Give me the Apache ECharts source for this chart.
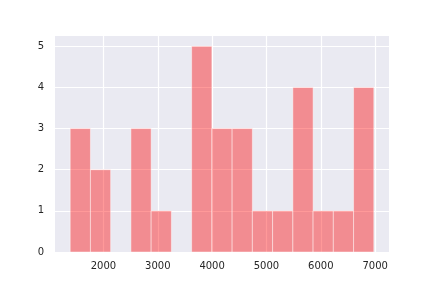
<!DOCTYPE html>
<html>
<head>
<meta charset="utf-8">
<script src="https://cdn.jsdelivr.net/npm/echarts@6/dist/echarts.min.js"></script>
<style>html,body{margin:0;padding:0;background:#fff;}#c{width:432px;height:288px;}</style>
</head>
<body>
<div id="c"></div>
<script>
const binEdges = [1388, 1760.5, 2133, 2505.5, 2878, 3250.5, 3623, 3995.5, 4368, 4740.5, 5113, 5485.5, 5858, 6230.5, 6603, 6975.5];
const counts = [3, 2, 0, 3, 1, 0, 5, 3, 3, 1, 1, 4, 1, 1, 4];
const xTicks = [2000, 3000, 4000, 5000, 6000, 7000];
const yTicks = [0, 1, 2, 3, 4, 5];

const span = binEdges[binEdges.length - 1] - binEdges[0];
const xMin = binEdges[0] - 0.05 * span;
const xMax = binEdges[binEdges.length - 1] + 0.05 * span;
const yMax = Math.max(...counts) * 1.05;

const data = counts.map((c, i) => [binEdges[i], binEdges[i + 1], c]);
const font = { fontFamily: 'DejaVu Sans', fontSize: 10, color: '#262626', formatter: v => String(v) };

const chart = echarts.init(document.getElementById('c'), null, { renderer: 'canvas' });
chart.setOption({
  animation: false,
  backgroundColor: '#ffffff',
  grid: { left: 55, right: 43, top: 36, bottom: 36, show: true, backgroundColor: '#EAEAF2', borderWidth: 0 },
  xAxis: {
    type: 'value', min: xMin, max: xMax,
    axisLine: { show: false }, axisTick: { show: false, customValues: xTicks },
    axisLabel: Object.assign({ customValues: xTicks, margin: 9 }, font),
    splitLine: { show: true, lineStyle: { color: '#ffffff', width: 1.2 } }
  },
  yAxis: {
    type: 'value', min: 0, max: yMax,
    axisLine: { show: false }, axisTick: { show: false, customValues: yTicks },
    axisLabel: Object.assign({ customValues: yTicks, margin: 11 }, font),
    splitLine: { show: true, lineStyle: { color: '#ffffff', width: 1.2 } }
  },
  series: [{
    type: 'custom',
    data: data,
    renderItem: function (params, api) {
      const lo = api.value(0), hi = api.value(1), c = api.value(2);
      if (!c) return null;
      const p0 = api.coord([lo, c]);
      const p1 = api.coord([hi, 0]);
      return {
        type: 'rect',
        shape: { x: p0[0], y: p0[1], width: p1[0] - p0[0], height: p1[1] - p0[1] },
        style: { fill: 'rgba(255,0,0,0.4)', stroke: 'rgba(255,255,255,0.45)', lineWidth: 1 }
      };
    },
    encode: { x: [0, 1], y: 2 }
  }]
});
</script>
</body>
</html>
